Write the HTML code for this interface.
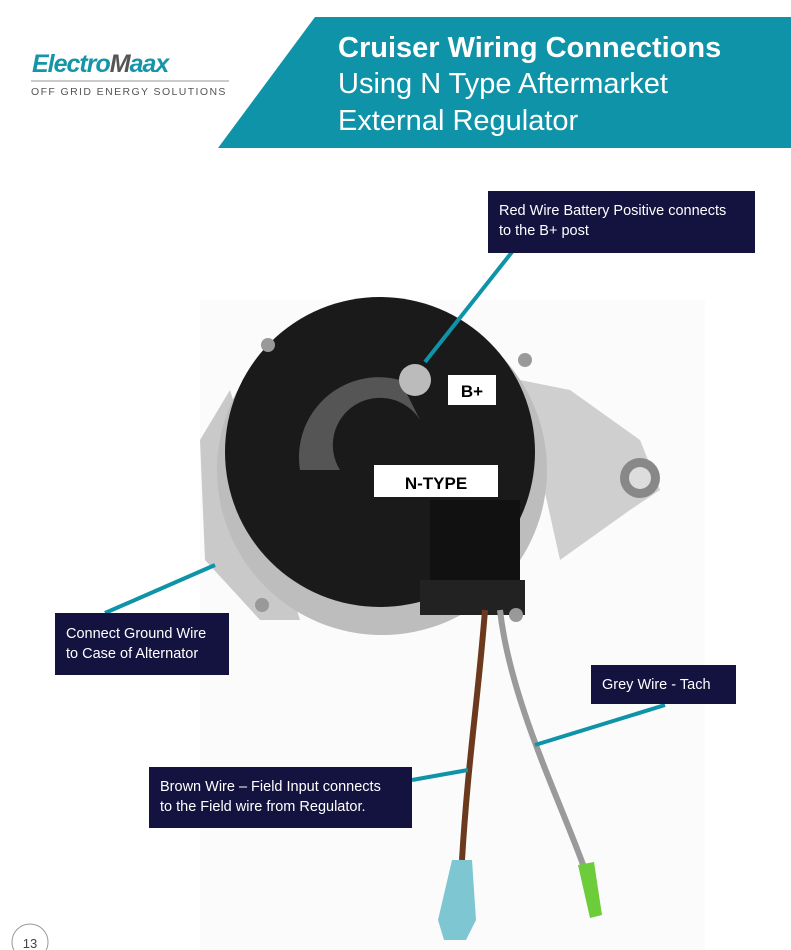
<!DOCTYPE html>
<html><head><meta charset="utf-8"><style>
body{margin:0;width:791px;height:950px;background:#fff;position:relative;overflow:hidden;font-family:"Liberation Sans",sans-serif}
.lab{position:absolute;background:#14123f;color:#fff;font-size:14.5px;line-height:20px;padding:0 11px;box-sizing:border-box;white-space:nowrap}
.t{position:absolute;left:338px;color:#fff;font-size:29px;line-height:37px;white-space:nowrap}
</style></head><body>
<svg width="791" height="950" style="position:absolute;left:0;top:0">
<rect x="200" y="300" width="505" height="650" fill="#fbfbfb"/>
<polygon points="315,17 791,17 791,148 218,148" fill="#0f93a8"/>
<path d="M230,390 L200,440 L205,560 L260,620 L300,620 Z" fill="#c9c9c9"/>
<path d="M520,380 L570,390 L640,440 L660,490 L630,510 L560,560 Z" fill="#cfcfcf"/>
<circle cx="640" cy="478" r="20" fill="#888"/><circle cx="640" cy="478" r="11" fill="#ddd"/>
<circle cx="382" cy="470" r="165" fill="#bdbdbd"/>
<circle cx="380" cy="452" r="155" fill="#1a1a1a"/>
<path d="M300,470 A80,80 0 0 1 400,380 L420,420 A40,40 0 0 0 340,470 Z" fill="#555"/>
<rect x="430" y="500" width="90" height="110" fill="#111"/>
<rect x="420" y="580" width="105" height="35" fill="#222"/>
<circle cx="415" cy="380" r="16" fill="#bbb"/>
<circle cx="268" cy="345" r="7" fill="#999"/><circle cx="525" cy="360" r="7" fill="#999"/>
<circle cx="262" cy="605" r="7" fill="#999"/><circle cx="516" cy="615" r="7" fill="#999"/>
<path d="M485,610 C478,700 468,760 462,860" stroke="#6b3a1e" stroke-width="6" fill="none"/>
<path d="M500,610 C510,700 560,800 585,870" stroke="#9a9a9a" stroke-width="6" fill="none"/>
<polygon points="452,860 472,860 476,920 466,940 444,940 438,920" fill="#7fc6d3"/>
<polygon points="578,865 594,862 602,915 590,918" fill="#6ccc3a"/>
<rect x="448" y="375" width="48" height="30" fill="#fff"/>
<text x="472" y="397" text-anchor="middle" font-family="Liberation Sans" font-weight="bold" font-size="17">B+</text>
<rect x="374" y="465" width="124" height="32" fill="#fff"/>
<text x="436" y="489" text-anchor="middle" font-family="Liberation Sans" font-weight="bold" font-size="17">N-TYPE</text>
<g stroke="#0f93a8" stroke-width="4" fill="none">
<line x1="512" y1="252" x2="425" y2="362"/>
<line x1="105" y1="613" x2="215" y2="565"/>
<line x1="412" y1="780" x2="468" y2="770"/>
<line x1="535" y1="745" x2="665" y2="705"/>
</g>
<circle cx="30" cy="942" r="18" fill="#fff" stroke="#999"/>
<text x="30" y="948" text-anchor="middle" font-family="Liberation Sans" font-size="13" fill="#444">13</text>
</svg>
<div style="position:absolute;left:32px;top:50px;color:#1595a8;font-size:25px;font-weight:bold;font-style:italic;letter-spacing:-1px">Electro<span style="color:#555">M</span>aax</div>
<div style="position:absolute;left:31px;top:80px;width:198px;height:2px;background:#ccc"></div>
<div style="position:absolute;left:31px;top:86px;color:#555;font-size:10.5px;letter-spacing:1.4px">OFF GRID ENERGY SOLUTIONS</div>
<div class="t" style="top:30px;font-weight:bold">Cruiser Wiring Connections</div>
<div class="t" style="top:66px">Using N Type Aftermarket</div>
<div class="t" style="top:103px">External Regulator</div>
<div class="lab" style="left:488px;top:191px;width:267px;height:62px;padding-top:10px">Red Wire Battery Positive connects<br>to the B+ post</div>
<div class="lab" style="left:55px;top:613px;width:174px;height:62px;padding-top:11px">Connect Ground Wire<br>to Case of Alternator</div>
<div class="lab" style="left:591px;top:665px;width:145px;height:39px;padding-top:10px">Grey Wire - Tach</div>
<div class="lab" style="left:149px;top:767px;width:263px;height:61px;padding-top:10px">Brown Wire – Field Input connects<br>to the Field wire from Regulator.</div>
</body></html>
